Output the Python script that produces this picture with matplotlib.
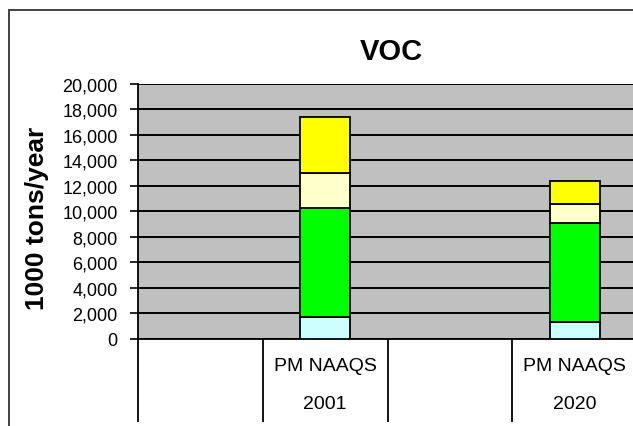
import matplotlib

matplotlib.use("Agg")
import matplotlib.pyplot as plt
import numpy as np
from matplotlib.patches import Rectangle
from matplotlib.ticker import FuncFormatter, FixedLocator

matplotlib.rcParams["font.family"] = ["Liberation Sans", "DejaVu Sans"]

# Kategorien: leere Spalten zwischen den Szenarien wie im Original
slots = ["", "PM NAAQS", "", "PM NAAQS"]
slot_years = ["", "2001", "", "2020"]
bar_slots = [1, 3]

# Emissionen (1000 tons/year), von unten nach oben gestapelt
seg_cyan = [1700, 1350]
seg_green = [8550, 7750]
seg_cream = [2720, 1500]
seg_yellow = [4430, 1770]

SEGMENTS = [
    (seg_cyan, "#CCFFFF"),
    (seg_green, "#00FF00"),
    (seg_cream, "#FFFFCC"),
    (seg_yellow, "#FFFF00"),
]

W, H = 633, 427
fig = plt.figure(figsize=(W / 100, H / 100), dpi=100)
fig.patch.set_facecolor("white")

left, right, top, bottom = 138, 637, 84.5, 340
ax = fig.add_axes([left / W, (H - bottom) / H, (right - left) / W, (bottom - top) / H])
ax.set_facecolor("#C0C0C0")

base = np.zeros(len(bar_slots))
for values, color in SEGMENTS:
    vals = np.array(values, dtype=float)
    ax.bar(bar_slots, vals, bottom=base, width=0.4, color=color,
           edgecolor="black", linewidth=1.3, zorder=3)
    base = base + vals

ax.set_xlim(-0.5, len(slots) - 0.5)
ax.set_ylim(0, 20000)
ax.set_yticks(np.arange(0, 20001, 2000))
ax.yaxis.set_major_formatter(FuncFormatter(lambda v, _: f"{int(v):,}"))
ax.tick_params(axis="y", direction="out", length=5.5, width=1.2, pad=9,
               labelsize=13)

ax.grid(axis="y", color="black", linewidth=1.4)
ax.set_axisbelow(True)

# Kategorieachse: Beschriftungen + lange Trennstriche nach unten
ax.set_xticks(range(len(slots)))
ax.set_xticklabels([f"{s}\n\n{y}" if s else "" for s, y in zip(slots, slot_years)],
                   fontsize=14, linespacing=1.17)
ax.tick_params(axis="x", which="major", length=0, pad=13)
ax.xaxis.set_minor_locator(FixedLocator(np.arange(-0.5, len(slots) - 0.5, 1.0)))
ax.tick_params(axis="x", which="minor", direction="out", length=60, width=1.3)

for side in ["top", "right"]:
    ax.spines[side].set_visible(False)
ax.spines["left"].set_linewidth(1.3)
ax.spines["bottom"].set_linewidth(1.3)

ax.set_ylabel("1000 tons/year", fontsize=19, fontweight="bold")
ax.yaxis.set_label_coords(-(left - 49) / (right - left), (bottom - 218) / (bottom - top))

fig.text(391 / W, 1 - 52 / H, "VOC", fontsize=21, fontweight="bold",
         ha="center", va="center")

# Rahmen des Diagrammbereichs (rechts/unten abgeschnitten)
fig.patches.append(Rectangle((9 / W, -0.1), 2, 1.1 - 11 / H, transform=fig.transFigure,
                             fill=False, edgecolor="#333333", linewidth=1.3))

fig.savefig("out.png", dpi=100)
